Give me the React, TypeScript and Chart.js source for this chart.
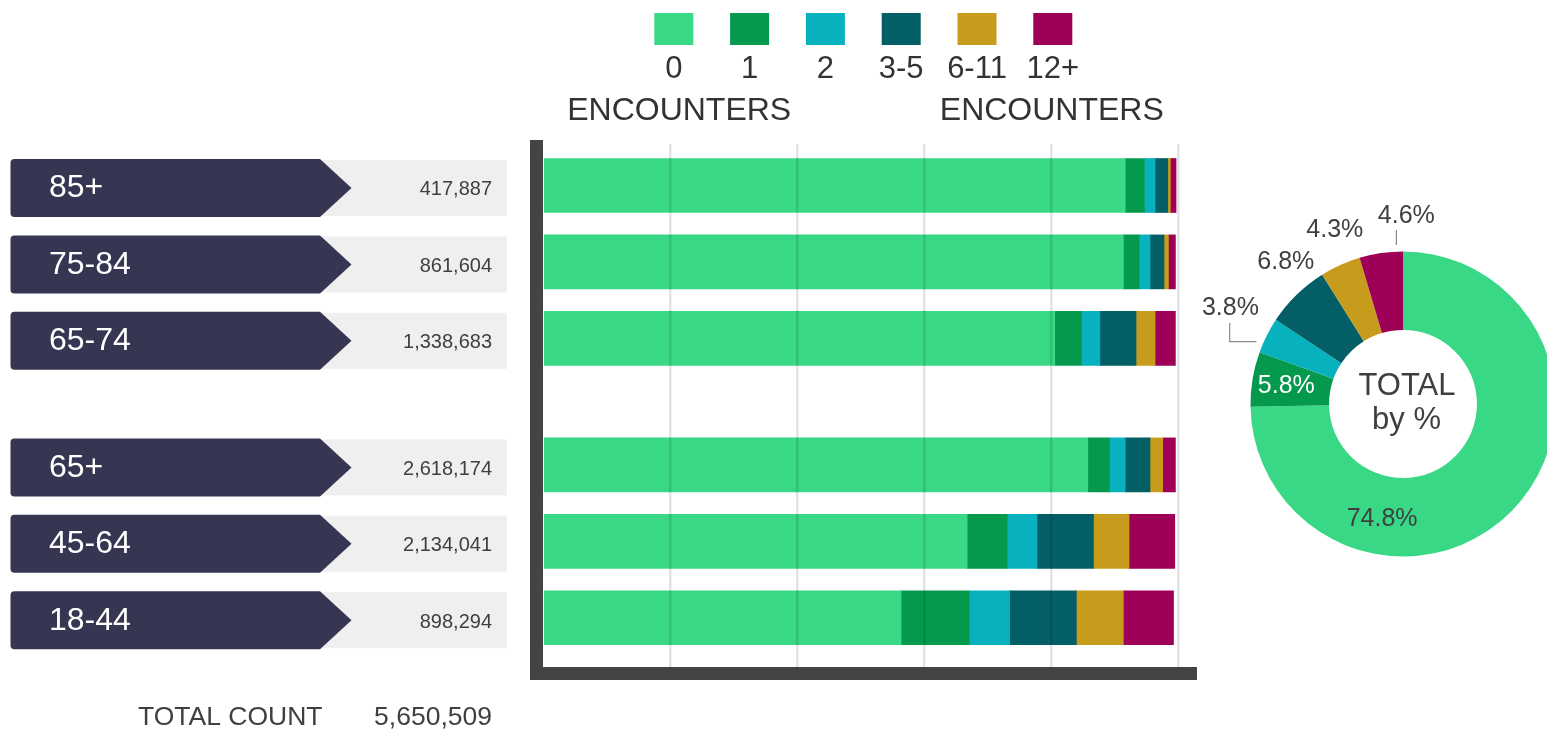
import React, { useEffect, useRef } from 'react';
import { Chart, registerables } from 'chart.js';

Chart.register(...registerables);

// ---------------- data ----------------
const AGE_GROUPS = ['85+', '75-84', '65-74', '65+', '45-64', '18-44'];
const GROUP_COUNTS = [417887, 861604, 1338683, 2618174, 2134041, 898294];
const TOTAL_COUNT = 5650509;

const ENCOUNTER_BANDS = ['0', '1', '2', '3-5', '6-11', '12+'];
// share (%) of each age group by number of encounters
const SHARE_0 = [91.7, 91.4, 80.6, 85.8, 66.8, 56.4];
const SHARE_1 = [3.0, 2.5, 4.2, 3.4, 6.3, 10.7];
const SHARE_2 = [1.7, 1.7, 2.9, 2.5, 4.7, 6.4];
const SHARE_3_5 = [2.0, 2.2, 5.7, 3.9, 8.9, 10.5];
const SHARE_6_11 = [0.4, 0.7, 3.0, 2.0, 5.6, 7.4];
const SHARE_12P = [0.9, 1.1, 3.2, 2.0, 7.2, 7.9];

// total share (%) by number of encounters
const TOTAL_SHARE = [74.8, 5.8, 3.8, 6.8, 4.3, 4.6];
const TOTAL_SHARE_LABELS = ['74.8%', '5.8%', '3.8%', '6.8%', '4.3%', '4.6%'];

const GRID_STEP = 20;

const SERIES = [SHARE_0, SHARE_1, SHARE_2, SHARE_3_5, SHARE_6_11, SHARE_12P];

// ---------------- style / layout ----------------
const COLORS = ['#39D886', '#05994E', '#07B1BD', '#035E66', '#C79B1B', '#9E0058'];
const FONT = "'Liberation Sans', Arial, Helvetica, sans-serif";
const TEXT = '#3f3f3f';
const NAVY = '#363552';
const AXIS = '#444444';
const GROUP_GAP = 0.657; // extra space between the 65+ breakdown and the summary rows
const rowPos = (i: number) => i + (i >= 3 ? GROUP_GAP : 0);
const fmt = (n: number) => n.toLocaleString('en-US');

// polar placement of donut labels: [angle in degrees (canvas), distance from center px]
const DONUT_LABEL_AT: [number, number][] = [
  [100.3, 117], [188.7, 118], [209, 197.3], [230.5, 184.3], [248.6, 187], [271, 188.2],
];

const barDecor = {
  id: 'barDecor',
  afterDraw(chart: any) {
    const { ctx, chartArea } = chart;
    const { left, right, top, bottom } = chartArea;
    const ys = chart.scales.y;
    ctx.save();

    // heavy axis lines
    ctx.fillStyle = AXIS;
    ctx.fillRect(left - 13, top - 4, 13, bottom - top + 17);
    ctx.fillRect(left - 13, bottom, right - left + 13, 13);

    // row tags + counts
    AGE_GROUPS.forEach((g, i) => {
      const c = ys.getPixelForValue(rowPos(i)) + 2.5;
      ctx.fillStyle = '#EFEFEF';
      ctx.fillRect(320, c - 28, 187, 56);

      const l = 10.5, r = 4, h = 29, xr = 320, tip = 351.5;
      ctx.fillStyle = NAVY;
      ctx.beginPath();
      ctx.moveTo(l + r, c - h);
      ctx.lineTo(xr, c - h);
      ctx.lineTo(tip, c);
      ctx.lineTo(xr, c + h);
      ctx.lineTo(l + r, c + h);
      ctx.quadraticCurveTo(l, c + h, l, c + h - r);
      ctx.lineTo(l, c - h + r);
      ctx.quadraticCurveTo(l, c - h, l + r, c - h);
      ctx.closePath();
      ctx.fill();

      ctx.fillStyle = '#FFFFFF';
      ctx.font = `32px ${FONT}`;
      ctx.textAlign = 'left';
      ctx.textBaseline = 'alphabetic';
      ctx.fillText(g, 49, c + 9.5);

      ctx.fillStyle = TEXT;
      ctx.font = `20px ${FONT}`;
      ctx.textAlign = 'right';
      ctx.fillText(fmt(GROUP_COUNTS[i]), 492, c + 7.5);
    });

    // total
    ctx.fillStyle = TEXT;
    ctx.font = `26.5px ${FONT}`;
    ctx.textAlign = 'left';
    ctx.fillText('TOTAL COUNT', 138, bottom + 58);
    ctx.textAlign = 'right';
    ctx.fillText(fmt(TOTAL_COUNT), 492, bottom + 58);

    // legend
    const lx0 = 673.8, step = 75.8;
    ENCOUNTER_BANDS.forEach((b, k) => {
      const cx = lx0 + k * step;
      ctx.fillStyle = COLORS[k];
      ctx.fillRect(cx - 19.5, 13, 39, 32);
      ctx.fillStyle = '#333333';
      ctx.font = `31px ${FONT}`;
      ctx.textAlign = 'center';
      ctx.fillText(b, cx, 77.5);
    });
    ctx.font = `32px ${FONT}`;
    ctx.fillStyle = '#333333';
    ctx.textAlign = 'center';
    ctx.fillText('ENCOUNTERS', lx0 + 5.4, 120);
    ctx.fillText('ENCOUNTERS', lx0 + 5 * step - 1, 120);

    ctx.restore();
  },
};

const donutDecor = {
  id: 'donutDecor',
  afterDraw(chart: any) {
    const { ctx } = chart;
    const arcs = chart.getDatasetMeta(0).data;
    if (!arcs.length) return;
    const cx = arcs[0].x, cy = arcs[0].y;
    ctx.save();

    // leader lines
    ctx.strokeStyle = '#8a8a8a';
    ctx.lineWidth = 1.2;
    ctx.beginPath();
    ctx.moveTo(cx - 6.6, cy - 174);
    ctx.lineTo(cx - 6.6, cy - 159);
    ctx.moveTo(cx - 173.3, cy - 81);
    ctx.lineTo(cx - 173.3, cy - 62.3);
    ctx.lineTo(cx - 146.6, cy - 62.3);
    ctx.stroke();

    ctx.font = `25px ${FONT}`;
    ctx.textAlign = 'center';
    ctx.textBaseline = 'middle';
    TOTAL_SHARE_LABELS.forEach((t, i) => {
      const [deg, r] = DONUT_LABEL_AT[i];
      const a = (deg * Math.PI) / 180;
      ctx.fillStyle = i === 1 ? '#FFFFFF' : TEXT;
      ctx.fillText(t, cx + r * Math.cos(a), cy + r * Math.sin(a));
    });

    ctx.fillStyle = TEXT;
    ctx.font = `31px ${FONT}`;
    ctx.textBaseline = 'alphabetic';
    ctx.fillText('TOTAL', cx + 4, cy - 9);
    ctx.fillText('by %', cx + 3.5, cy + 25);
    ctx.restore();
  },
};

export default function App() {
  const barRef = useRef<HTMLCanvasElement>(null);
  const donutRef = useRef<HTMLCanvasElement>(null);

  useEffect(() => {
    const bar = new Chart(barRef.current as HTMLCanvasElement, {
      type: 'bar',
      data: {
        datasets: ENCOUNTER_BANDS.map((band, k) => ({
          label: band,
          data: AGE_GROUPS.map((_, i) => ({ x: SERIES[k][i], y: rowPos(i) })),
          backgroundColor: COLORS[k],
          borderWidth: 0,
          barThickness: 54,
        })),
      } as any,
      options: {
        indexAxis: 'y',
        responsive: false,
        animation: false,
        events: [],
        layout: { padding: { left: 543, top: 144, right: 13, bottom: 62 } },
        scales: {
          x: {
            type: 'linear',
            stacked: true,
            min: 0,
            max: 103,
            offset: false,
            grid: {
              z: 1,
              lineWidth: 2.5,
              drawTicks: false,
              offset: false,
              color: (c: any) => (c.tick && c.tick.value > 0 ? 'rgba(0,0,0,0.11)' : 'rgba(0,0,0,0)'),
            },
            border: { display: false },
            ticks: { display: false, stepSize: GRID_STEP, includeBounds: false },
          },
          y: {
            type: 'linear',
            stacked: true,
            reverse: true,
            offset: false,
            grid: { offset: false },
            min: -0.543,
            max: 6.302,
            display: false,
          },
        },
        plugins: { legend: { display: false }, tooltip: { enabled: false } },
      } as any,
      plugins: [barDecor],
    });

    const donut = new Chart(donutRef.current as HTMLCanvasElement, {
      type: 'doughnut',
      data: {
        labels: ENCOUNTER_BANDS,
        datasets: [{ data: TOTAL_SHARE, backgroundColor: COLORS, borderWidth: 0 }],
      },
      options: {
        responsive: false,
        animation: false,
        events: [],
        cutout: '48.5%',
        layout: { padding: 67.5 },
        plugins: { legend: { display: false }, tooltip: { enabled: false } },
      } as any,
      plugins: [donutDecor],
    });

    return () => {
      bar.destroy();
      donut.destroy();
    };
  }, []);

  return (
    <div
      style={{
        position: 'fixed',
        left: 0,
        top: 0,
        width: 1547,
        height: 729,
        overflow: 'hidden',
        background: '#ffffff',
      }}
    >
      <canvas ref={barRef} width={1210} height={729} style={{ position: 'absolute', left: 0, top: 0 }} />
      <canvas ref={donutRef} width={440} height={440} style={{ position: 'absolute', left: 1183, top: 184 }} />
    </div>
  );
}
